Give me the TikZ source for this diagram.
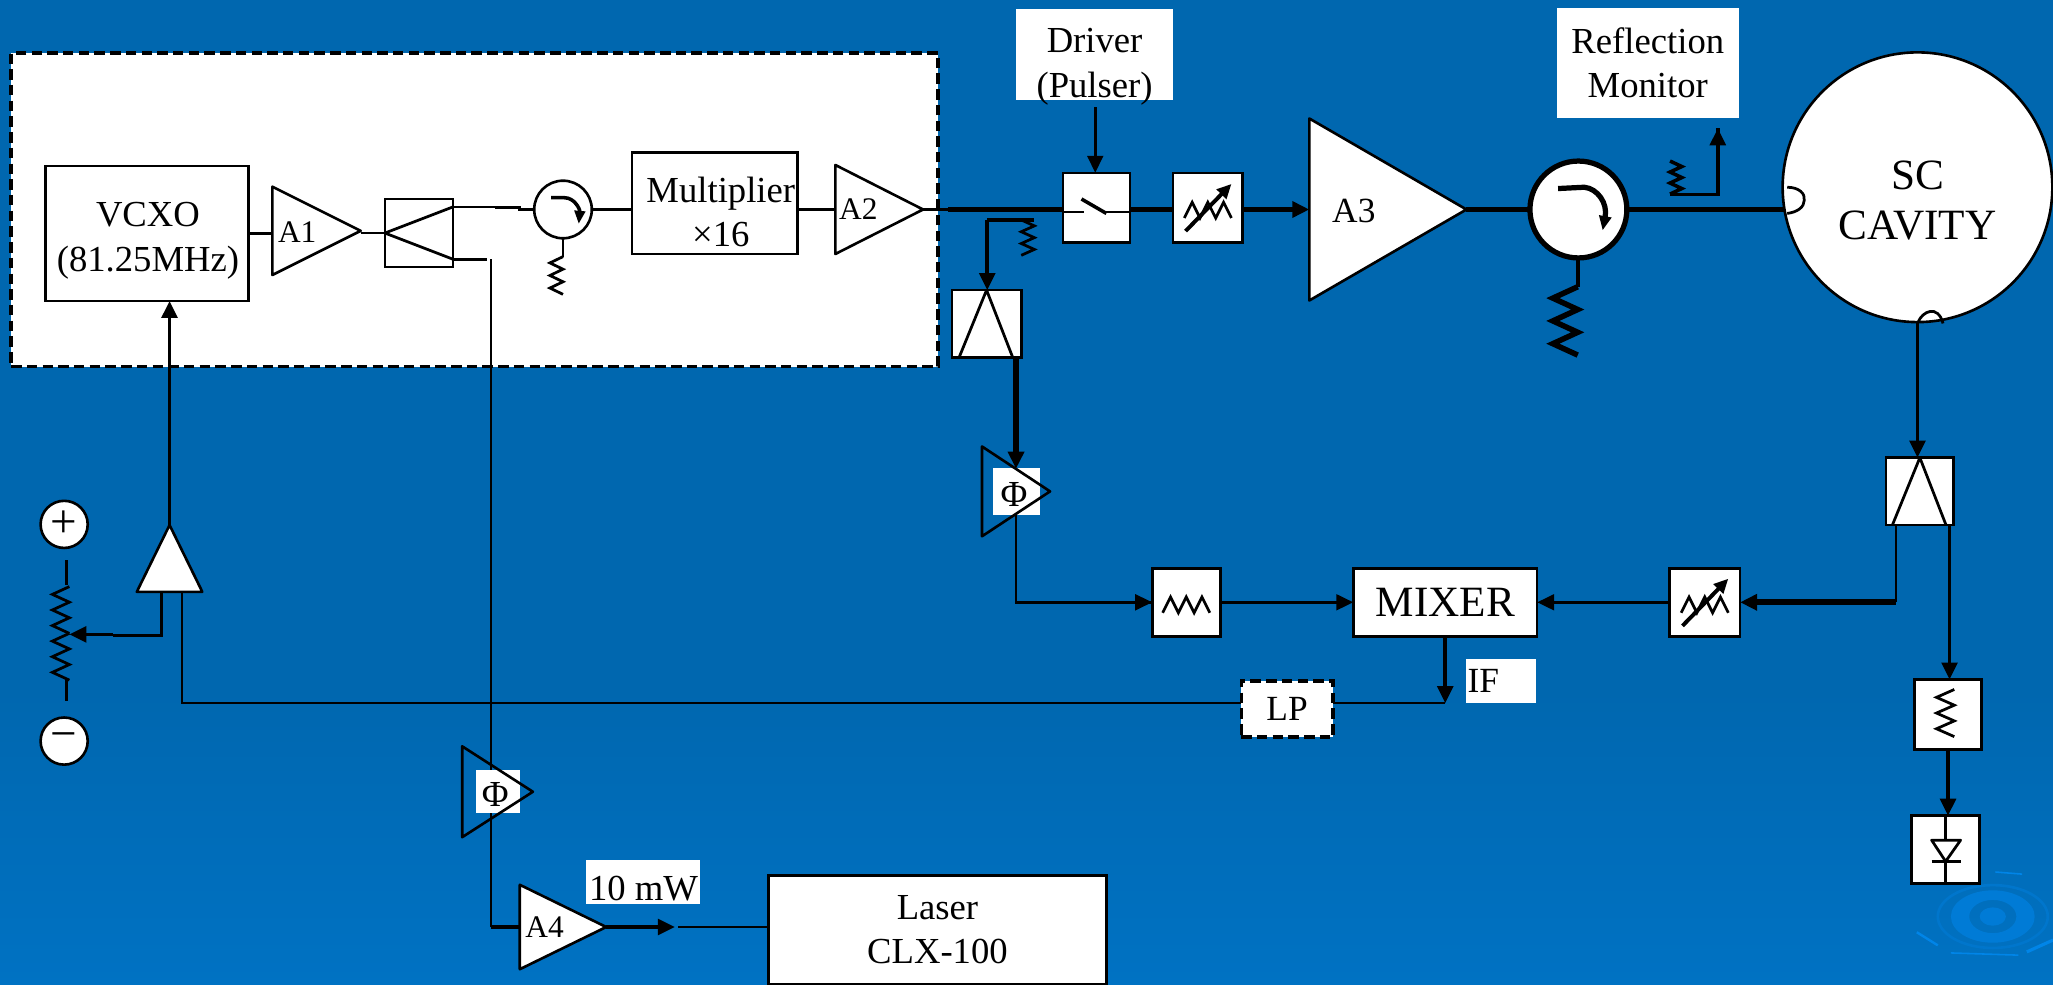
\documentclass[tikz,border=0pt]{standalone}
\usepackage{fontspec}
\setmainfont{Liberation Serif}
\usetikzlibrary{arrows.meta,shapes.geometric}

\definecolor{slideblue}{RGB}{0,103,175}
\definecolor{slidelight}{RGB}{0,114,195}
\definecolor{ripple}{RGB}{0,123,214}
\definecolor{ripplerim}{RGB}{0,118,204}
\definecolor{ripplelight}{RGB}{0,133,232}
\pgfdeclareverticalshading{slideback}{100bp}{color(0bp)=(slidelight); color(25bp)=(slidelight); color(40bp)=(slideblue); color(100bp)=(slideblue)}

\newcommand{\labelfont}[1][28]{\fontsize{#1}{34}\selectfont}

\tikzset{
  blocknode/.style={draw, fill=white, rectangle, line width=2pt, inner sep=0pt, outer sep=0pt},
  dashnode/.style={blocknode, dashed, dash pattern=on 8pt off 4pt, line width=2.6pt},
  ampnode/.style={draw, fill=white, isosceles triangle, isosceles triangle stretches, inner sep=0pt, outer sep=0pt, line width=2pt, line join=round, anchor=lower side},
  phinode/.style={ampnode, fill=none},
  circnode/.style={draw, fill=white, circle, inner sep=0pt, outer sep=0pt, line width=2pt},
  whitebg/.style={fill=white, rectangle, inner sep=0pt, outer sep=0pt},
  thinwire/.style={line width=2.1pt},
  midwire/.style={line width=2.7pt},
  thickwire/.style={line width=4.4pt},
  arrowed/.style={-{Stealth[length=13pt,width=12pt,inset=0pt]}},
  zigres/.pic={\draw[line join=miter] (0,0) -- (-1,1) -- (0,2) -- (-1,3) -- (0,4) -- (-1,5) -- (0,6);},
  zigfilter/.pic={\draw[thinwire] (-18,8) -- (-12,-4) -- (-6,8) -- (0,-4) -- (6,8) -- (12,-4) -- (18,8);},
  attensym/.pic={
    \draw[thinwire] (-18,8) -- (-12,-4) -- (-6,8) -- (0,-4) -- (6,8) -- (12,-4) -- (18,8);
    \draw[-{Stealth[length=11pt,width=10pt,inset=0pt]}, line width=3pt] (-17,18) -- (18,-18);
  },
}

\begin{document}
\begin{tikzpicture}[x=1pt, y=-1pt, every node/.style={font=\labelfont, text=black}]
  % Slide background
  \shade[shading=slideback] (0,0) rectangle (1568,752.3);
  \useasboundingbox (0,0) rectangle (1568,752.3);

  % Ripple in the corner
  \draw[ripplerim, line width=2pt] (1522,700) ellipse (42 and 24);
  \fill[ripple, even odd rule] (1522,700) ellipse (32 and 20) (1522,700) ellipse (18 and 12.7);
  \fill[ripple] (1522,700) ellipse (10 and 7);
  \draw[ripplelight, line width=1.8pt] (1464,712) -- (1480,722);
  \draw[ripplelight, line width=2.4pt] (1548,727) -- (1568,718);
  \draw[ripplelight, line width=1.2pt] (1524,666) -- (1544.4,667.6);
  \draw[ripplelight, line width=1.2pt] (1490,727.8) -- (1541.6,729.5);

  % Dashed oscillator panel
  \node[dashnode, minimum width=708pt, minimum height=239.6pt] (panel) at (362.5,160.3) {};

  % Plain boxes
  \foreach \name/\x/\y/\w/\h in {
    vcxo/112.4/178.3/155.2/103,
    mult/546/155.3/126.5/77.4,
    split/320/178/52/52,
    switch/837.5/158.5/51/53,
    attena/922.5/158.5/53/53,
    coupa/753.5/247.3/53/51.5,
    filt/906/460/52/52,
    attenb/1302/460/54/52,
    coupb/1466.3/375.3/51.5/51.5,
    resbox/1487.8/545.8/51.6/53.6,
    diode/1485.8/649/52/52
  } {
    \node[blocknode, minimum width=\w pt, minimum height=\h pt] (\name) at (\x,\y) {};
  }

  % Boxes with text
  \node[blocknode, minimum width=140.4pt, minimum height=52pt, font={\labelfont[33]}] (mixer) at (1103.8,460) {MIXER};
  \node[blocknode, minimum width=258pt, minimum height=83pt, align=center] (laser) at (716,710) {Laser\\CLX-100};
  \node[dashnode, minimum width=70pt, minimum height=43pt, font={\labelfont[27]}] (lp) at (983,541.5) {LP};
  \node[circnode, minimum size=206pt] (cavity) at (1464.5,143) {};

  % Text placed off centre in its box
  \node[align=center] (vcxotext) at (113,184) {VCXO\\(81.25MHz)};
  \node[align=center] (multtext) at (550.5,162) {Multiplier\\×16};
  \node[align=center, font=\fontsize{33}{38}\selectfont] (cavitytext) at (1464.5,153) {SC\\CAVITY};

  % Amplifiers
  \foreach \name/\x/\y/\w/\h in {
    ampa/208/176.3/67.5/67.5,
    ampb/638/160/67/68,
    ampc/1000/160/120/139,
    ampd/397/708/66/64.5
  } {
    \node[ampnode, minimum height=\w pt, minimum width=\h pt] (\name) at (\x,\y) {};
  }
  \node[ampnode, shape border rotate=90, minimum width=50pt, minimum height=51pt] (erramp) at (129.5,452) {};

  \node[font={\labelfont[24]}] (ampatext) at (227,177) {A1};
  \node[font={\labelfont[24]}] (ampbtext) at (655.5,160) {A2};
  \node[font={\labelfont[27]}] (ampctext) at (1034,161) {A3};
  \node[font={\labelfont[24]}] (ampdtext) at (416,708) {A4};

  % Circulators and supply terminals
  \node[circnode, minimum size=44pt] (circa) at (430,160) {};
  \node[circnode, minimum size=74pt, line width=4pt] (circb) at (1205.5,160) {};
  \node[circnode, minimum size=36pt, font={\labelfont[36]}] (plus) at (49,400.5) {+};
  \node[circnode, minimum size=36pt, font={\labelfont[36]}] (minus) at (49,566) {−};

  % Free ends
  \coordinate (splitup) at (346,158);
  \coordinate (splitlow) at (346,198);
  \coordinate (mainbus) at (724,160);
  \coordinate (drivefrom) at (836.5,82);
  \coordinate (cavin) at (1363,160);
  \coordinate (tapleft) at (754,168);
  \coordinate (ifdrop) at (1103.8,537);
  \coordinate (reflfrom) at (1275.5,148.4);
  \coordinate (reflto) at (1312,98);
  \coordinate (potwiper) at (53,484.5);
  \coordinate (laserfrom) at (518,708);

  % Oscillator chain
  \draw[thinwire] (vcxo.east) -- (vcxo.east -| ampa.lower side);
  \draw[thinwire] (ampa.apex |- split.west) -- (split.west);
  \draw[thinwire, line join=round] (splitup) -- (split.west) -- (splitlow);
  \draw[thinwire] (splitup) -- ++(51,0) -- ++(0,2) -- (circa.west);
  \draw[midwire] (378,158.5) -- (397,158.5);
  \draw[thinwire] (circa.east) -- (circa.east -| mult.west);
  \draw[thinwire] (circa.east -| mult.east) -- (ampb.lower side);
  \draw[thinwire] (ampb.apex) -- (mainbus);
  \draw[thinwire] (circa.south) -- ++(0,14);
  \pic[thinwire, xscale=10, yscale=4.8] at (430,196) {zigres};
  \draw[midwire, -{Stealth[length=10pt,width=8pt,inset=0pt]}] (421,151) -- (431,151) .. controls (439,151) and (443,160) .. (442,171);

  % Path to the cavity
  \draw[thickwire] (mainbus) -- (mainbus -| switch.west);
  \draw[thickwire] (mainbus -| switch.east) -- (mainbus -| attena.west);
  \draw[thickwire, arrowed] (mainbus -| attena.east) -- (ampc.lower side);
  \draw[line width=3.6pt] (ampc.apex) -- (circb.west);
  \draw[thickwire] (circb.east) -- (cavin);
  \draw[thinwire, arrowed] (drivefrom) -- (drivefrom |- switch.north);
  \draw[thinwire] (switch.west |- 0,162) -- (828,162);
  \draw[thinwire] (845,162) -- (switch.east |- 0,162);
  \draw[midwire] (826,152) -- (845,163);
  \pic at (922.5,158.5) {attensym};

  % Large circulator
  \draw[line width=4pt, -{Stealth[length=11pt,width=9pt,inset=0pt]}] (1190,144) -- (1210,143) .. controls (1220,144) and (1228,155) .. (1224,176);
  \draw[midwire] (circb.south -| 1205,0) -- (1205,219);
  \pic[line width=4.2pt, xscale=19, yscale=8.7] at (1205,219) {zigres};
  \draw[midwire] (reflfrom) -| (reflto);
  \draw[midwire, arrowed] (1312,112) -- (reflto);
  \pic[midwire, xscale=-9, yscale=4.2] at (1275.5,123) {zigres};

  % Cavity probes
  \draw[thinwire] (1365,143) .. controls (1374,143) and (1379,148) .. (1378,153) .. controls (1378,158) and (1373,162) .. (1365,163);
  \draw[thinwire] (1465,246) .. controls (1468,238) and (1480,232) .. (1484,247);

  % Sample path
  \draw[midwire] (tapleft) -- (790,168);
  \pic[thinwire, xscale=-10, yscale=4.5] at (780,168) {zigres};
  \draw[midwire, arrowed] (tapleft) -- (coupa.north -| tapleft);
  \draw[thinwire, line join=round] (coupa.north) -- ++(-21,51.5) (coupa.north) -- ++(20,51.5);
  \draw[thinwire] (776,393) |- (filt.west);
  \draw[thinwire, arrowed] (800,460) -- (filt.west);
  \draw[thinwire, arrowed] (filt.east) -- (mixer.west);
  \pic at (906,460) {zigfilter};

  % Cavity pickup
  \draw[midwire, arrowed] (cavity.south) -- (cavity.south |- coupb.north);
  \draw[thinwire, line join=round] (coupb.north) -- ++(-21,51.5) (coupb.north) -- ++(20,51.5);
  \draw[thinwire] (1448,401) -- (1448,460);
  \draw[thickwire, arrowed] (1448,460) -- (attenb.east);
  \draw[thinwire, arrowed] (attenb.west) -- (mixer.east);
  \pic at (1302,460) {attensym};
  \draw[midwire, arrowed] (1489,402) -- (1489,0 |- resbox.north);
  \pic[thinwire, xscale=13.6, yscale=6] at (1492.6,526.6) {zigres};
  \draw[midwire, arrowed] (resbox.south) -- (resbox.south |- diode.north);

  % Diode
  \draw[thinwire] (diode.north) -- (diode.south);
  \draw[thinwire, fill=white, line join=round] (1475.3,641.7) -- (1497.4,641.7) -- (1486,657.9) -- cycle;
  \draw[thinwire] (1475.3,658) -- (1497.4,658);

  % Feedback loop
  \draw[midwire, arrowed] (mixer.south) -- (ifdrop);
  \draw[thinwire] (ifdrop) -- (ifdrop -| lp.east);
  \draw[thinwire] (ifdrop -| lp.west) -| (139,452);
  \draw[midwire, arrowed] (erramp.apex) -- (vcxo.south -| erramp.apex);
  \draw[thinwire] (123.5,452) |- (86.5,485.6);
  \draw[midwire, arrowed] (86.5,484.5) -- (potwiper);
  \draw[thinwire] (51,428) -- (51,447);
  \draw[thinwire] (51,519.5) -- (51,535.6);
  \pic[thinwire, xscale=13, yscale=5.96] at (53,448) {zigres};
  \pic[thinwire, xscale=13, yscale=5.96] at (53,483.7) {zigres};

  % Laser branch
  \draw[thinwire] (splitlow) -- (372,198);
  \draw[thinwire] (375,198) -- (375,708);
  \draw[midwire] (375,708) -- (ampd.lower side);
  \draw[midwire, arrowed] (ampd.apex) -- (515.5,708);
  \draw[thinwire] (laserfrom) -- (laser.west |- laserfrom);

  % White labels
  \node[whitebg, minimum width=120pt, minimum height=69pt] (driverbg) at (836,41.5) {};
  \node[align=center] (driver) at (836,51) {Driver\\(Pulser)};
  \node[whitebg, minimum width=139pt, minimum height=84pt, align=center] (refl) at (1258.5,48) {Reflection\\Monitor};
  \node[whitebg, minimum width=53.2pt, minimum height=33.3pt, text width=51pt, font={\labelfont[27]}] (iftext) at (1146.4,520) {IF};
  \node[whitebg, minimum width=87pt, minimum height=33.5pt] (powerbg) at (491.2,673.7) {};
  \node (power) at (491.5,679) {10 mW};

  % Phase shifters, outline over their white patch
  \node[whitebg, minimum width=36pt, minimum height=36pt] (phiabg) at (776.5,375.5) {};
  \node[whitebg, minimum width=33.4pt, minimum height=33pt] (phibbg) at (380.3,604.5) {};
  \node[phinode, minimum height=52pt, minimum width=68.6pt] (phia) at (750,375.3) {};
  \node[phinode, minimum height=54pt, minimum width=69.4pt] (phib) at (353,604.7) {};
  \node (phiatext) at (774.5,378) {Φ};
  \node (phibtext) at (378.3,607) {Φ};
  \draw[thickwire, arrowed] (776,273) -- (776,358);
\end{tikzpicture}
\end{document}
